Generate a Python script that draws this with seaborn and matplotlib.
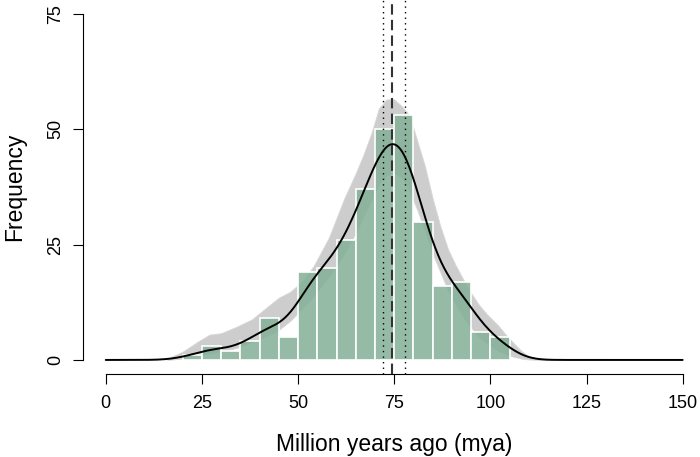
import numpy as np
import pandas as pd
import matplotlib
matplotlib.use('Agg')
import matplotlib.pyplot as plt
import seaborn as sns

# histogram counts, bins of 5 myr
bin_edges = [20, 25, 30, 35, 40, 45, 50, 55, 60, 65, 70, 75, 80, 85, 90, 95, 100, 105]
counts = [1, 3, 2, 4, 9, 5, 19, 20, 26, 37, 50, 53, 30, 16, 17, 6, 5]

# spread of the gray bootstrap curves
env_x = [16, 20, 24, 27, 30, 34, 38, 42, 45, 48, 51, 54, 58, 62, 65, 67, 69, 71, 73, 75,
         77, 79, 81, 83, 85, 87, 89, 91, 93, 95, 97, 99, 102, 104, 106, 108, 110, 113, 116]
env_upper = [0.3, 1.8, 4.0, 5.5, 5.8, 7.2, 8.8, 11.5, 13.5, 14.8, 17.0, 20.3, 26.5, 35.0, 40.5, 44.5, 49.0, 54.5, 56.5, 56.5,
             55.0, 53.0, 47.5, 42.0, 35.0, 29.0, 24.0, 20.5, 17.4, 14.5, 12.0, 10.0, 7.5, 5.5, 3.7, 2.0, 0.8, 0.2, 0.0]
env_lower = [0.0, 0.3, 1.0, 1.4, 1.8, 2.6, 3.8, 5.2, 6.5, 8.5, 11.0, 13.8, 18.0, 23.0, 27.5, 31.0, 34.5, 38.0, 40.0, 40.5,
             39.5, 36.5, 32.5, 28.0, 23.0, 19.0, 15.0, 12.0, 9.2, 7.0, 5.0, 3.6, 2.0, 1.2, 0.7, 0.3, 0.1, 0.0, 0.0]

# point estimate and interval
age_est = 74.4
age_ci = [72.0, 77.7]

x_ticks = [0, 25, 50, 75, 100, 125, 150]
y_ticks = [0, 25, 50, 75]

mids = [(bin_edges[i] + bin_edges[i + 1]) / 2 for i in range(len(counts))]
df = pd.DataFrame({'age': mids, 'n': counts})

sns.set_style('ticks')
plt.rcParams['font.family'] = ['Liberation Sans', 'DejaVu Sans']
plt.rcParams['text.color'] = 'black'
plt.rcParams['axes.labelcolor'] = 'black'
plt.rcParams['xtick.color'] = 'black'
plt.rcParams['ytick.color'] = 'black'

fig = plt.figure(figsize=(7, 4.57), dpi=100)
ax = fig.add_axes([0.1181, 0.1821, 0.8901, 0.8175])

# gray bundle
ax.fill_between(env_x, env_lower, env_upper, color='#cdcdcd', lw=0.6, edgecolor='#d8d8d8', zorder=1)

# histogram + kde
sns.histplot(data=df, x='age', weights='n', bins=bin_edges, kde=True,
             kde_kws=dict(bw_adjust=0.46, cut=20, clip=(0, 150), gridsize=400),
             color='#83af97', alpha=0.85, edgecolor='white', linewidth=1.2, ax=ax, zorder=2)
kde_line = ax.lines[0]
kde_line.set_color('black')
kde_line.set_linewidth(1.4)
kde_line.set_zorder(4)

ax.axvline(age_est, color='#333333', lw=1.5, linestyle=(0, (5, 2.5)), zorder=5)
for v in age_ci:
    ax.axvline(v, color='black', lw=1.0, linestyle=(0, (1, 3)), zorder=5)

ax.set_xlim(-6, 156)
ax.set_ylim(-3, 78)
ax.set_xticks(x_ticks)
ax.set_yticks(y_ticks)
ax.spines['top'].set_visible(False)
ax.spines['right'].set_visible(False)
ax.spines['left'].set_bounds(0, 75)
ax.spines['bottom'].set_bounds(0, 150)
for s in ['left', 'bottom']:
    ax.spines[s].set_linewidth(0.8)
    ax.spines[s].set_color('black')
ax.tick_params(length=7.2, width=0.8, color='black', labelsize=13)
ax.tick_params(axis='x', pad=8)
ax.tick_params(axis='y', pad=6)
plt.setp(ax.get_yticklabels(), rotation=90, va='center')

ax.set_xlabel('Million years ago (mya)', fontsize=16.5, labelpad=15)
ax.set_ylabel('Frequency', fontsize=16.5, labelpad=15)

fig.savefig('out.png', dpi=100)
